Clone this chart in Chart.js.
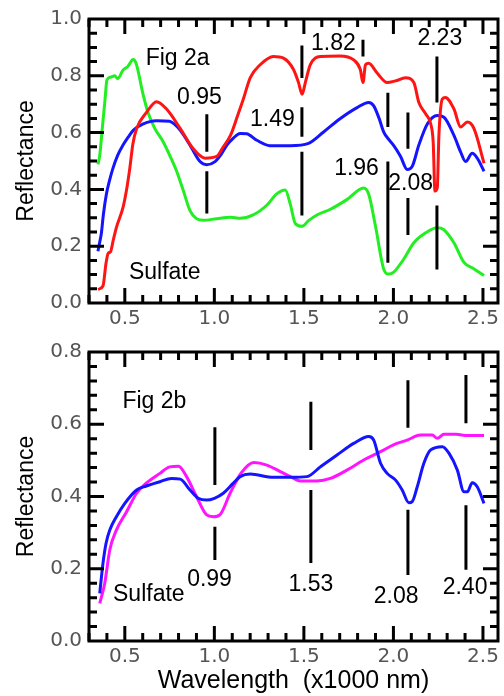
<!DOCTYPE html>
<html>
<head>
<meta charset="utf-8">
<script src="https://cdn.jsdelivr.net/npm/chart.js@4.4.1/dist/chart.umd.min.js"></script>
<style>
  html, body { margin: 0; padding: 0; background: #fff; }
  #wrap { position: relative; width: 504px; height: 696px; }
  canvas { position: absolute; left: 0; }
</style>
</head>
<body>
<div id="wrap">
  <canvas id="figA" width="504" height="330" style="top:0"></canvas>
  <canvas id="figB" width="504" height="366" style="top:330px"></canvas>
</div>
<script>
// ---- Fig 2a ----
const greenX = [0.35, 0.36, 0.375, 0.39, 0.40, 0.42, 0.444, 0.46, 0.49, 0.517, 0.547, 0.565, 0.60, 0.63, 0.668, 0.714, 0.75, 0.79, 0.827, 0.864, 0.90, 0.94, 1.013, 1.09, 1.144, 1.217, 1.294, 1.35, 1.396, 1.424, 1.452, 1.49, 1.526, 1.573, 1.648, 1.74, 1.834, 1.862, 1.90, 1.946, 1.974, 2.0, 2.058, 2.114, 2.18, 2.245, 2.28, 2.338, 2.394, 2.45, 2.506];
const greenY = [0.488, 0.52, 0.62, 0.72, 0.785, 0.795, 0.80, 0.79, 0.82, 0.833, 0.857, 0.84, 0.74, 0.67, 0.614, 0.568, 0.521, 0.463, 0.395, 0.325, 0.297, 0.291, 0.297, 0.302, 0.298, 0.31, 0.345, 0.385, 0.398, 0.348, 0.28, 0.27, 0.29, 0.31, 0.33, 0.364, 0.405, 0.383, 0.27, 0.119, 0.102, 0.108, 0.155, 0.212, 0.247, 0.265, 0.259, 0.212, 0.143, 0.12, 0.097];

const blueAX = [0.35, 0.36, 0.369, 0.38, 0.397, 0.414, 0.434, 0.46, 0.49, 0.52, 0.547, 0.60, 0.677, 0.75, 0.78, 0.81, 0.864, 0.92, 0.957, 1.004, 1.04, 1.07, 1.105, 1.144, 1.18, 1.237, 1.31, 1.424, 1.526, 1.61, 1.70, 1.797, 1.862, 1.89, 1.92, 1.946, 1.975, 2.0, 2.04, 2.077, 2.105, 2.142, 2.19, 2.245, 2.282, 2.338, 2.375, 2.403, 2.44, 2.468, 2.506];
const blueAY = [0.182, 0.215, 0.245, 0.31, 0.383, 0.43, 0.475, 0.52, 0.556, 0.585, 0.608, 0.63, 0.642, 0.64, 0.628, 0.608, 0.556, 0.498, 0.487, 0.498, 0.525, 0.556, 0.58, 0.597, 0.596, 0.573, 0.554, 0.554, 0.562, 0.602, 0.648, 0.688, 0.706, 0.694, 0.65, 0.602, 0.575, 0.556, 0.516, 0.47, 0.481, 0.556, 0.631, 0.66, 0.654, 0.59, 0.532, 0.498, 0.527, 0.51, 0.464];

const redX = [0.35, 0.378, 0.395, 0.407, 0.42, 0.435, 0.454, 0.49, 0.51, 0.528, 0.545, 0.566, 0.62, 0.677, 0.733, 0.81, 0.88, 0.948, 1.013, 1.05, 1.09, 1.13, 1.162, 1.20, 1.256, 1.33, 1.386, 1.442, 1.47, 1.49, 1.508, 1.536, 1.592, 1.70, 1.778, 1.815, 1.83, 1.844, 1.862, 1.909, 1.965, 2.011, 2.068, 2.114, 2.142, 2.18, 2.208, 2.222, 2.232, 2.245, 2.254, 2.273, 2.29, 2.338, 2.375, 2.413, 2.45, 2.506];
const redY = [0.048, 0.06, 0.14, 0.175, 0.18, 0.22, 0.268, 0.337, 0.40, 0.475, 0.56, 0.614, 0.67, 0.709, 0.683, 0.614, 0.545, 0.51, 0.516, 0.55, 0.59, 0.66, 0.718, 0.793, 0.839, 0.868, 0.862, 0.822, 0.776, 0.735, 0.776, 0.839, 0.868, 0.87, 0.856, 0.822, 0.776, 0.839, 0.844, 0.81, 0.776, 0.782, 0.793, 0.776, 0.706, 0.666, 0.631, 0.567, 0.394, 0.406, 0.59, 0.718, 0.724, 0.683, 0.62, 0.637, 0.614, 0.492];

// band markers: wavelength, then [from, to] reflectance pieces of the line
const markA = [
  [0.958, [[0.665, 0.533], [0.464, 0.315]]],
  [1.489, [[0.907, 0.792], [0.689, 0.585], [0.533, 0.308]]],
  [1.83, [[0.927, 0.868]]],
  [1.969, [[0.74, 0.62], [0.498, 0.142]]],
  [2.081, [[0.671, 0.543], [0.37, 0.239]]],
  [2.243, [[0.868, 0.706], [0.343, 0.118]]]
];
const textA = [
  ['Fig 2a', 0.795, 0.862],
  ['0.95', 0.917, 0.723],
  ['1.49', 1.324, 0.644],
  ['1.82', 1.665, 0.913],
  ['2.23', 2.259, 0.931],
  ['1.96', 1.794, 0.474],
  ['2.08', 2.096, 0.419],
  ['Sulfate', 0.723, 0.107]
];

// ---- Fig 2b ----
const blueBX = [0.36, 0.378, 0.395, 0.416, 0.453, 0.50, 0.566, 0.62, 0.696, 0.76, 0.81, 0.864, 0.91, 0.957, 1.0, 1.05, 1.106, 1.144, 1.2, 1.33, 1.424, 1.517, 1.592, 1.685, 1.778, 1.862, 1.89, 1.928, 1.965, 2.011, 2.049, 2.086, 2.105, 2.133, 2.17, 2.208, 2.273, 2.31, 2.357, 2.394, 2.413, 2.44, 2.468, 2.506];
const blueBY = [0.132, 0.215, 0.27, 0.307, 0.344, 0.381, 0.418, 0.429, 0.441, 0.45, 0.448, 0.418, 0.395, 0.39, 0.395, 0.409, 0.437, 0.455, 0.462, 0.453, 0.453, 0.455, 0.482, 0.515, 0.547, 0.566, 0.556, 0.492, 0.464, 0.446, 0.418, 0.383, 0.386, 0.427, 0.492, 0.529, 0.538, 0.52, 0.473, 0.413, 0.413, 0.438, 0.427, 0.381];

const pinkX = [0.36, 0.388, 0.416, 0.453, 0.51, 0.566, 0.62, 0.696, 0.75, 0.80, 0.845, 0.90, 0.957, 0.994, 1.032, 1.088, 1.15, 1.22, 1.293, 1.368, 1.424, 1.48, 1.573, 1.648, 1.74, 1.834, 1.928, 2.0, 2.077, 2.15, 2.217, 2.245, 2.282, 2.35, 2.413, 2.506];
const pinkY = [0.104, 0.16, 0.252, 0.307, 0.358, 0.409, 0.437, 0.464, 0.482, 0.484, 0.455, 0.40, 0.349, 0.344, 0.35, 0.409, 0.465, 0.494, 0.487, 0.469, 0.455, 0.443, 0.443, 0.45, 0.473, 0.501, 0.524, 0.543, 0.556, 0.57, 0.57, 0.561, 0.572, 0.572, 0.569, 0.569];

const markB = [
  [1.003, [[0.592, 0.432], [0.316, 0.224]]],
  [1.539, [[0.662, 0.529], [0.418, 0.216]]],
  [2.081, [[0.722, 0.59], [0.363, 0.183]]],
  [2.405, [[0.736, 0.603], [0.376, 0.197]]]
];
const textB = [
  ['Fig 2b', 0.665, 0.662],
  ['Sulfate', 0.634, 0.127],
  ['0.99', 0.973, 0.169],
  ['1.53', 1.539, 0.155],
  ['2.08', 2.015, 0.122],
  ['2.40', 2.40, 0.147]
];

const xTicks = [0.5, 1.0, 1.5, 2.0, 2.5];
const yTicksA = [0.0, 0.2, 0.4, 0.6, 0.8, 1.0];
const yTicksB = [0.0, 0.2, 0.4, 0.6, 0.8];

const pts = (xs, ys) => xs.map((x, i) => ({x: x, y: ys[i]}));

function markerPoints(marks) {
  let out = [];
  marks.forEach(m => {
    m[1].forEach(s => {
      out.push({x: m[0], y: s[0]}, {x: m[0], y: s[1]}, {x: m[0], y: null});
    });
  });
  return out;
}

function curve(data, color) {
  return {
    data: data,
    borderColor: color,
    borderWidth: 3,
    pointRadius: 0,
    cubicInterpolationMode: 'monotone',
    fill: false
  };
}

// box + inward ticks on all four sides, then the text labels
function framePlugin(yMinor, yMajorEvery, labels) {
  return {
    id: 'frame',
    afterDatasetsDraw(chart) {
      const {ctx, chartArea: a, scales: {x, y}} = chart;
      ctx.save();
      ctx.strokeStyle = '#000';
      ctx.lineWidth = 3;
      ctx.beginPath();
      for (let i = Math.ceil(x.min * 10); i <= Math.floor(x.max * 10); i++) {
        const px = x.getPixelForValue(i / 10);
        const len = i % 5 === 0 ? 15 : 8;
        ctx.moveTo(px, a.bottom); ctx.lineTo(px, a.bottom - len);
        ctx.moveTo(px, a.top); ctx.lineTo(px, a.top + len);
      }
      const n = Math.round((y.max - y.min) / yMinor);
      for (let i = 1; i < n; i++) {
        const py = y.getPixelForValue(y.min + i * yMinor);
        const len = i % yMajorEvery === 0 ? 15 : 8;
        ctx.moveTo(a.left, py); ctx.lineTo(a.left + len, py);
        ctx.moveTo(a.right, py); ctx.lineTo(a.right - len, py);
      }
      ctx.stroke();
      ctx.strokeRect(a.left, a.top, a.width, a.height);

      ctx.fillStyle = '#000';
      ctx.font = '23px "Liberation Sans", Arial, sans-serif';
      ctx.textAlign = 'center';
      ctx.textBaseline = 'middle';
      labels.forEach(t => {
        ctx.fillText(t[0], x.getPixelForValue(t[1]), y.getPixelForValue(t[2]));
      });
      ctx.restore();
    }
  };
}

function makeChart(id, datasets, yMax, yTicks, yMinor, yMajorEvery, labels, padTop, xHeight, showTitle) {
  const tickFont = {family: '"DejaVu Sans", sans-serif', size: 20};
  return new Chart(document.getElementById(id), {
    type: 'line',
    data: {datasets: datasets},
    options: {
      responsive: false,
      animation: false,
      events: [],
      layout: {padding: {top: padTop, right: 6, left: 0, bottom: 0}},
      plugins: {legend: {display: false}, tooltip: {enabled: false}},
      scales: {
        x: {
          type: 'linear',
          min: 0.3,
          max: 2.584,
          grid: {display: false, drawTicks: false},
          border: {display: false},
          afterBuildTicks: s => { s.ticks = xTicks.map(v => ({value: v})); },
          afterFit: s => { s.height = xHeight; },
          ticks: {
            padding: 4,
            color: '#555',
            font: tickFont,
            callback: v => v.toFixed(1)
          },
          title: {
            display: showTitle,
            text: 'Wavelength  (x1000 nm)',
            color: '#000',
            font: {family: '"Liberation Sans", Arial, sans-serif', size: 25},
            padding: {top: 0, bottom: 0}
          }
        },
        y: {
          min: 0,
          max: yMax,
          grid: {display: false, drawTicks: false},
          border: {display: false},
          afterBuildTicks: s => { s.ticks = yTicks.map(v => ({value: v})); },
          afterFit: s => { s.width = 89; },
          ticks: {
            padding: 7,
            color: '#555',
            font: tickFont,
            callback: v => v.toFixed(1)
          },
          title: {
            display: true,
            text: 'Reflectance',
            color: '#000',
            font: {family: '"Liberation Sans", Arial, sans-serif', size: 23},
            padding: {top: 13, bottom: 0}
          }
        }
      }
    },
    plugins: [framePlugin(yMinor, yMajorEvery, labels)]
  });
}

const markerStyle = {borderColor: '#000', borderWidth: 3, pointRadius: 0, spanGaps: false, tension: 0, fill: false};

makeChart('figA', [
  Object.assign({data: markerPoints(markA)}, markerStyle),
  curve(pts(redX, redY), '#ff1414'),
  curve(pts(blueAX, blueAY), '#1414ff'),
  curve(pts(greenX, greenY), '#22ee22')
], 1.0, yTicksA, 0.05, 4, textA, 15, 27, false);

makeChart('figB', [
  Object.assign({data: markerPoints(markB)}, markerStyle),
  curve(pts(blueBX, blueBY), '#1414ff'),
  curve(pts(pinkX, pinkY), '#ff14ff')
], 0.8, yTicksB, 0.04, 5, textB, 22, 55, true);
</script>
</body>
</html>
